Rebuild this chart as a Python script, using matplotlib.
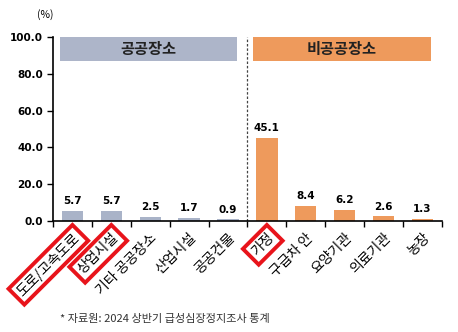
import matplotlib
matplotlib.use("Agg")
import matplotlib.pyplot as plt
from matplotlib.patches import Rectangle

plt.rcParams['font.family'] = ['Noto Sans CJK KR', 'DejaVu Sans']

# 데이터
cats = ["도로/고속도로", "상업시설", "기타 공공장소", "산업시설", "공공건물",
        "가정", "구급차 안", "요양기관", "의료기관", "농장"]
vals = [5.7, 5.7, 2.5, 1.7, 0.9, 45.1, 8.4, 6.2, 2.6, 1.3]
groups = ["공공장소", "비공공장소"]
highlight = ["도로/고속도로", "상업시설", "가정"]

blue = "#A9B3C8"
orange = "#EE9A5C"
colors = [blue] * 5 + [orange] * 5

fig = plt.figure(figsize=(4.58, 3.32), dpi=100)
ax = fig.add_axes([0.1157, 0.334, 0.849, 0.5546])

x = list(range(len(cats)))
ax.bar(x, vals, width=0.55, color=colors, zorder=2)
for xi, v in zip(x, vals):
    ax.text(xi, v + 2.5, f"{v:.1f}", ha="center", va="bottom",
            fontsize=7.5, fontweight="bold", family="DejaVu Sans")

ax.set_xlim(-0.5, 9.5)
ax.set_ylim(0, 100)
ax.set_yticks([0, 20, 40, 60, 80, 100])
ax.set_yticklabels([f"{t:.1f}" for t in [0, 20, 40, 60, 80, 100]],
                   fontsize=7.5, fontweight="bold", family="DejaVu Sans")
ax.set_xticks([i - 0.5 for i in range(11)])
ax.set_xticklabels([])
ax.set_xticks(x, minor=True)
ax.set_xticklabels(cats, minor=True, rotation=45, ha="right",
                   rotation_mode="anchor", fontsize=10)
ax.tick_params(axis="x", which="minor", length=0, pad=7)
ax.tick_params(axis="x", which="major", length=4, width=1, direction="out")
ax.tick_params(axis="y", length=4, width=1, pad=3)
for lab in ax.get_xticklabels(minor=True):
    if lab.get_text() in highlight:
        lab.set_bbox(dict(facecolor="none", edgecolor="#E8141B",
                          linewidth=2.8, pad=3))
for s in ["top", "right"]:
    ax.spines[s].set_visible(False)
ax.spines["left"].set_linewidth(1.2)
ax.spines["bottom"].set_linewidth(1.2)

# 그룹 헤더
ax.add_patch(Rectangle((-0.32, 87), 4.54, 13, facecolor="#ADB5C9",
                       edgecolor="none", clip_on=False))
ax.add_patch(Rectangle((4.65, 87), 4.57, 13, facecolor="#EE9A5C",
                       edgecolor="none", clip_on=False))
ax.text(1.95, 93.5, groups[0], ha="center", va="center", fontsize=11,
        fontweight="bold", color="#222222")
ax.text(6.93, 93.5, groups[1], ha="center", va="center", fontsize=11,
        fontweight="bold", color="#222222")
ax.axvline(4.5, color="#444444", linestyle=(0, (2, 1.5)), linewidth=0.9)

fig.text(0.098, 0.955, "(%)", ha="center", va="center", fontsize=7.5)
fig.text(0.13, 0.04, "* 자료원: 2024 상반기 급성심장정지조사 통계",
         ha="left", va="center", fontsize=8, color="#333333")

fig.savefig("out.png", dpi=100)
